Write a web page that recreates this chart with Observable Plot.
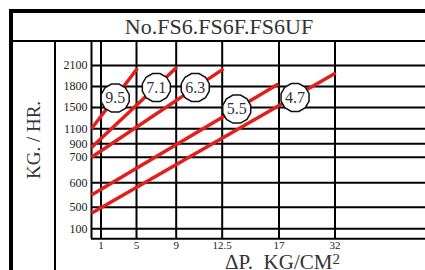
<!DOCTYPE html>
<html><head><meta charset="utf-8">
<script src="https://cdn.jsdelivr.net/npm/d3@7"></script>
<script src="https://cdn.jsdelivr.net/npm/@observablehq/plot@0.6"></script>
<style>
body{margin:0;background:#fff;}
#wrap{position:relative;width:425px;height:270px;overflow:hidden;font-family:"Liberation Serif","Times New Roman",serif;}
#frame{position:absolute;left:9px;top:9px;width:430px;height:270px;border-left:4px solid #000;border-top:4px solid #000;}
#title{position:absolute;left:13px;top:13px;width:412px;height:27px;line-height:27px;text-align:center;font-size:22px;color:#333;border-bottom:2px solid #000;}
#col{position:absolute;left:54px;top:41px;width:0;height:229px;border-left:2px solid #000;}
#plot{position:absolute;left:0;top:41px;}
#xlab{position:absolute;left:225px;top:252px;font-size:21px;line-height:21px;color:#333;white-space:pre;}
#xlab span{font-size:15px;position:relative;top:-5px;}
</style></head><body>
<div id="wrap">
<div id="plot"></div>
<div id="frame"></div>
<div id="title">No.FS6.FS6F.FS6UF</div>
<div id="col"></div>
<div id="xlab">ΔP.  KG/CM<span>2</span></div>
</div>
<script>
// tick values
const xTicks = [1, 5, 9, 12.5, 17, 32];
const yTicks = [100, 500, 600, 700, 900, 1100, 1500, 1800, 2100];
// curves (straight lines), labelled by orifice size
const curveLabels = ["9.5", "7.1", "6.3", "5.5", "4.7"];
const startX = [0, 0, 0, 0, 0];
const startY = [1100, 846, 700, 550, 387];
const endX = [5.1, 9.05, 12.6, 16.95, 32.1];
const endY = [2060, 2075, 2052, 1835, 1994];
const labelX = [2.6, 7.0, 10.45, 13.65, 21.3];
const labelY = [1634, 1786, 1786, 1470, 1643];

const segs = curveLabels.map((k, i) => ({k, x1: startX[i], y1: startY[i], x2: endX[i], y2: endY[i]}));
const labels = curveLabels.map((k, i) => ({k, x: labelX[i], y: labelY[i]}));

// non-uniform (piecewise) grid of the nomogram
const xDomain = [0, ...xTicks, 45];
const xRange = [91, 100.5, 136, 175.7, 221.7, 278.5, 334.5, 425];
const yDomain = [0, ...yTicks, 2400];
const yRange = [197.3, 187.3, 165.7, 141.3, 115.7, 102.3, 87.3, 66, 45, 24, 0];

const polygon = {
  draw(ctx, size) {
    const n = 12;
    const r = Math.sqrt(size / Math.PI) / Math.cos(Math.PI / n);
    for (let i = 0; i < n; i++) {
      const a = Math.PI / n + i * 2 * Math.PI / n;
      const px = r * Math.cos(a), py = r * Math.sin(a);
      i ? ctx.lineTo(px, py) : ctx.moveTo(px, py);
    }
    ctx.closePath();
  }
};

const chart = Plot.plot({
  width: 425, height: 229,
  marginTop: 0, marginRight: 0, marginBottom: 0, marginLeft: 0,
  x: {type: "linear", domain: xDomain, range: xRange, axis: null},
  y: {type: "linear", domain: yDomain, range: yRange, axis: null},
  style: {fontFamily: '"Liberation Serif", "Times New Roman", serif', background: "transparent", overflow: "visible"},
  marks: [
    Plot.ruleX([0, ...xTicks], {y1: 0, y2: 2400, stroke: "#000", strokeWidth: 2, strokeOpacity: 1}),
    Plot.ruleY([0, ...yTicks], {x1: 0, x2: 45, stroke: "#000", strokeWidth: 2, strokeOpacity: 1}),
    Plot.link(segs, {x1: "x1", y1: "y1", x2: "x2", y2: "y2", stroke: "#e21f1b", strokeWidth: 3.5}),
    Plot.dot(labels, {x: "x", y: "y", r: 14, symbol: polygon, fill: "#fff", stroke: "#111", strokeWidth: 1.5}),
    Plot.text(labels, {x: "x", y: "y", text: "k", fontSize: 16, fill: "#333"}),
    Plot.text(yTicks, {x: 0, y: d => d, text: d => String(d), textAnchor: "end", dx: -4, fontSize: 12, fill: "#222"}),
    Plot.text(xTicks, {x: d => d, y: 0, text: d => String(d), dy: 7, fontSize: 11, fill: "#222"}),
    Plot.text(["KG. / HR."], {frameAnchor: "left", textAnchor: "middle", dx: 33, dy: -16, rotate: -90, fontSize: 19, fill: "#333"})
  ]
});
document.getElementById("plot").appendChild(chart);
</script>
</body></html>
